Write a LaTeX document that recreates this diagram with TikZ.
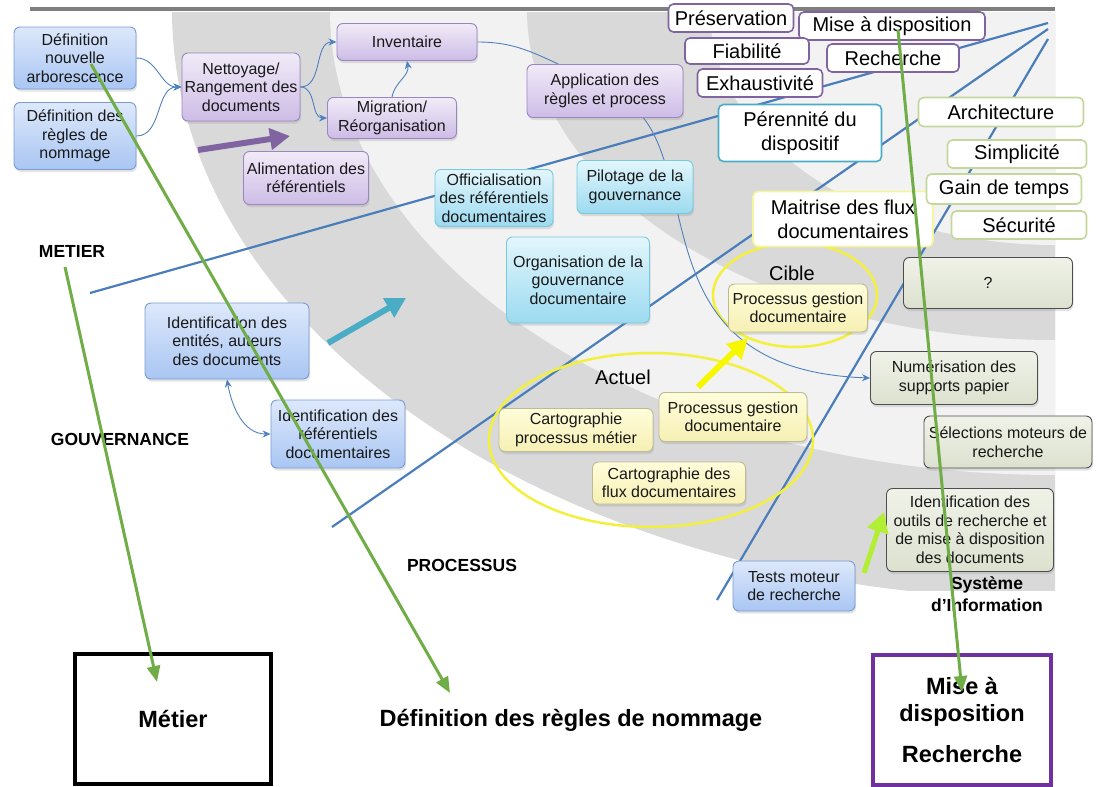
\documentclass[tikz,border=0pt]{standalone}
\usepackage{fontspec}
\setmainfont{Liberation Sans}
\usepackage{xcolor}
\usepackage{tikz}
\usetikzlibrary{arrows.meta,shadows}

\definecolor{bandGray}{HTML}{D9D9D9}
\definecolor{bandLight}{HTML}{F2F2F2}
\definecolor{barGray}{HTML}{7F7F7F}
\definecolor{spokeBlue}{HTML}{4A7EBB}
\definecolor{linkBlue}{HTML}{4F81BD}
\definecolor{blueLine}{HTML}{7B9BD1}
\definecolor{blueTop}{HTML}{DDE8FB}
\definecolor{blueBot}{HTML}{A9C6F3}
\definecolor{purpleLine}{HTML}{9A86C2}
\definecolor{purpleTop}{HTML}{F1EBF8}
\definecolor{purpleBot}{HTML}{CDBCE6}
\definecolor{tealLine}{HTML}{78C8DE}
\definecolor{tealTop}{HTML}{E2F6FC}
\definecolor{tealBot}{HTML}{9CDAF0}
\definecolor{yellowLine}{HTML}{BDBB96}
\definecolor{yellowTop}{HTML}{FFFDDA}
\definecolor{yellowBot}{HTML}{F6F0B4}
\definecolor{sysLine}{HTML}{4D4D4D}
\definecolor{sysTop}{HTML}{F0F2E8}
\definecolor{sysBot}{HTML}{DCE1CF}
\definecolor{tagPurple}{HTML}{8064A2}
\definecolor{tagTeal}{HTML}{4BACC6}
\definecolor{tagYellow}{HTML}{F5F5A0}
\definecolor{tagGreen}{HTML}{C3D69B}
\definecolor{ringYellow}{HTML}{F2F03C}
\definecolor{arrowYellow}{HTML}{F7F700}
\definecolor{arrowLime}{HTML}{B2EE34}
\definecolor{noteGreen}{HTML}{70AD47}
\definecolor{boxPurple}{HTML}{7030A0}

\pgfdeclarelayer{bg}
\pgfsetlayers{bg,main}

\begin{document}
\begin{tikzpicture}[x=1pt,y=-1pt,
    box/.style={rounded corners=6pt, align=center, inner sep=2pt, line width=0.9pt, text=black!90,
        font=\fontsize{16}{18.5}\selectfont,
        drop shadow={opacity=0.22, shadow xshift=1pt, shadow yshift=-2.5pt}},
    blueBox/.style={box, draw=blueLine, top color=blueTop, bottom color=blueBot},
    purpleBox/.style={box, draw=purpleLine, top color=purpleTop, bottom color=purpleBot},
    tealBox/.style={box, draw=tealLine, top color=tealTop, bottom color=tealBot},
    yellowBox/.style={box, draw=yellowLine, top color=yellowTop, bottom color=yellowBot},
    sysBox/.style={box, draw=sysLine, top color=sysTop, bottom color=sysBot},
    tagBox/.style={rounded corners=5pt, align=center, inner sep=2pt, fill=white, line width=1.6pt,
        font=\fontsize{20}{24}\selectfont},
    axisLabel/.style={align=center, font=\bfseries\fontsize{17.5}{22}\selectfont},
    bigLabel/.style={align=center, font=\bfseries\fontsize{23.5}{27}\selectfont},
    spoke/.style={draw=spokeBlue, line width=2.2pt},
    link/.style={draw=linkBlue, line width=0.9pt, -{Stealth[length=8pt,width=7pt]}},
    fatArrow/.style={line width=6pt, -{Triangle[length=20pt,width=21pt]}},
    noteArrow/.style={draw=noteGreen, line width=3pt, -{Triangle[length=16pt,width=13pt]}},
    ring/.style={draw=ringYellow, line width=2.5pt}
]
    \useasboundingbox (0,0) rectangle (1096,787);

    % spoke ends
    \coordinate (hubA) at (1048,23);
    \coordinate (hubB) at (1048,29);
    \coordinate (hubC) at (1048,39);
    \coordinate (spokeMetier) at (90,293);
    \coordinate (spokeGouv) at (332,527);
    \coordinate (spokeProc) at (717,600);

    % bands
    \begin{pgfonlayer}{bg}
        \begin{scope}
            \clip (0,12) rectangle (1055,590);
            \fill[bandGray] (1055,10) ellipse [x radius=883, y radius=589];
            \fill[bandLight] (1055,10) ellipse [x radius=725, y radius=465];
            \fill[bandGray] (1055,10) ellipse [x radius=528, y radius=330];
            \fill[bandLight] (1055,10) ellipse [x radius=345, y radius=235];
        \end{scope}
        \fill[barGray] (30,7) rectangle (1055,10.5);
        \draw[spoke] (spokeMetier) -- (hubA);
        \draw[spoke] (spokeGouv) -- (hubB);
        \draw[spoke] (spokeProc) -- (hubC);
        \draw[ring] (651,440) ellipse [x radius=162, y radius=87];
        \draw[ring] (795,295) ellipse [x radius=82, y radius=52];
    \end{pgfonlayer}

    % Metier
    \node[blueBox, minimum width=122, minimum height=62] (defArbo) at (75,58) {Définition\\nouvelle\\arborescence};
    \node[blueBox, minimum width=122, minimum height=67] (defRegles) at (75,136) {Définition des\\règles de\\nommage};
    \node[purpleBox, minimum width=118, minimum height=68] (nettoyage) at (241,87) {Nettoyage/\\Rangement des\\documents};
    \node[purpleBox, minimum width=140, minimum height=37] (inventaire) at (407,42) {Inventaire};
    \node[purpleBox, minimum width=129, minimum height=41] (migration) at (392,118) {Migration/\\Réorganisation};
    \node[purpleBox, minimum width=125, minimum height=53] (alimentation) at (306,178) {Alimentation des\\référentiels};
    \node[purpleBox, minimum width=156, minimum height=53] (application) at (605,91) {Application des\\règles et process};

    % Gouvernance
    \node[tealBox, minimum width=118, minimum height=57] (officialisation) at (494,198) {Officialisation\\des référentiels\\documentaires};
    \node[tealBox, minimum width=116, minimum height=53] (pilotage) at (635,187) {Pilotage de la\\gouvernance};
    \node[tealBox, minimum width=143, minimum height=86] (organisation) at (578,280) {Organisation de la\\gouvernance\\documentaire};
    \node[blueBox, minimum width=164, minimum height=76] (identEnt) at (227,341) {Identification des\\entités, auteurs\\des documents};
    \node[blueBox, minimum width=134, minimum height=68] (identRef) at (338,434) {Identification des\\référentiels\\documentaires};

    % Processus
    \node[yellowBox, minimum width=154, minimum height=43] (cartoProc) at (576,430) {Cartographie\\processus métier};
    \node[yellowBox, minimum width=148, minimum height=49] (procActuel) at (733,417) {Processus gestion\\documentaire};
    \node[yellowBox, minimum width=153, minimum height=42] (cartoFlux) at (669,483) {Cartographie des\\flux documentaires};
    \node[yellowBox, minimum width=139, minimum height=48] (procCible) at (798,308) {Processus gestion\\documentaire};
    \node[font=\fontsize{20}{24}\selectfont] (lblActuel) at (623,377) {Actuel};
    \node[font=\fontsize{20}{24}\selectfont] (lblCible) at (792,273) {Cible};

    % Systeme d'information
    \node[sysBox, minimum width=169, minimum height=51] (inconnu) at (988,283) {?};
    \node[sysBox, minimum width=167, minimum height=53] (numerisation) at (954,378) {Numérisation des\\supports papier};
    \node[sysBox, minimum width=168, minimum height=52] (selections) at (1008,442) {Sélections moteurs de\\recherche};
    \node[sysBox, minimum width=167, minimum height=83] (identOutils) at (970,530) {Identification des\\outils de recherche et\\de mise à disposition\\des documents};
    \node[blueBox, minimum width=122, minimum height=50] (testsMoteur) at (794,586) {Tests moteur\\de recherche};

    % objectifs
    \node[tagBox, draw=tagPurple, minimum width=125, minimum height=28] (preservation) at (731,18) {Préservation};
    \node[tagBox, draw=tagPurple, minimum width=186, minimum height=28] (miseDispo) at (892,26) {Mise à disposition};
    \node[tagBox, draw=tagPurple, minimum width=124, minimum height=26] (fiabilite) at (747,51) {Fiabilité};
    \node[tagBox, draw=tagPurple, minimum width=132, minimum height=28] (recherche) at (893,58) {Recherche};
    \node[tagBox, draw=tagPurple, minimum width=125, minimum height=28] (exhaustivite) at (760,83) {Exhaustivité};
    \node[tagBox, draw=tagTeal, minimum width=163, minimum height=57] (perennite) at (800,133) {Pérennité du\\dispositif};
    \node[tagBox, draw=tagYellow, minimum width=180, minimum height=55] (maitrise) at (843,219) {Maitrise des flux\\documentaires};
    \node[tagBox, draw=tagGreen, minimum width=165, minimum height=29] (architecture) at (1001,112) {Architecture};
    \node[tagBox, draw=tagGreen, minimum width=139, minimum height=28] (simplicite) at (1017,154) {Simplicité};
    \node[tagBox, draw=tagGreen, minimum width=155, minimum height=30] (gainTemps) at (1004,189) {Gain de temps};
    \node[tagBox, draw=tagGreen, minimum width=135, minimum height=28] (securite) at (1019,225) {Sécurité};

    % axes
    \node[axisLabel] (lblMetier) at (72,251) {METIER};
    \node[axisLabel] (lblGouv) at (120,439) {GOUVERNANCE};
    \node[axisLabel] (lblProc) at (462,565) {PROCESSUS};
    \node[axisLabel] (lblSI) at (987,594) {Système\\d’Information};

    % bas de page
    \node[bigLabel, draw=black, line width=3.5pt, minimum width=196, minimum height=130] (boxMetier) at (173,719) {Métier};
    \node[bigLabel] (lblNommage) at (571,720) {Définition des règles de nommage};
    \node[bigLabel, draw=boxPurple, line width=3.5pt, minimum width=178, minimum height=130] (boxMiseDispo) at (962,720) {Mise à\\disposition\\[14pt]Recherche};

    % liens
    \draw[link] (defArbo.east) to[out=0,in=180] (nettoyage.west);
    \draw[link] (defRegles.east) to[out=0,in=180] (nettoyage.west);
    \draw[link] (nettoyage.east) to[out=0,in=180] (inventaire.west);
    \draw[link] (nettoyage.east) to[out=0,in=180] (migration.west);
    \draw[link] (migration.north) to[out=80,in=-80] (inventaire.south);
    \draw[link, {Stealth[length=8pt,width=7pt]}-{Stealth[length=8pt,width=7pt]}] (identEnt.south) to[out=-80,in=180] (identRef.west);
    \begin{pgfonlayer}{bg}
        \draw[link, -] (inventaire.east) to[out=0,in=155] (application.150);
        \draw[link] (application.-35) .. controls (700,190) and (650,370) .. (numerisation.west);
    \end{pgfonlayer}

    % grosses fleches
    \coordinate (purpleTail) at (198,150);
    \coordinate (purpleTip) at (290,136);
    \coordinate (tealTail) at (328,343);
    \coordinate (tealTip) at (406,298);
    \coordinate (yellowTail) at (698,387);
    \coordinate (yellowTip) at (748,338);
    \coordinate (limeTail) at (864,573);
    \coordinate (limeTip) at (884,512);
    \draw[fatArrow, draw=tagPurple, fill=tagPurple] (purpleTail) -- (purpleTip);
    \draw[fatArrow, draw=tagTeal, fill=tagTeal] (tealTail) -- (tealTip);
    \draw[fatArrow, draw=arrowYellow, fill=arrowYellow] (yellowTail) -- (yellowTip);
    \draw[fatArrow, line width=5pt, draw=arrowLime, fill=arrowLime] (limeTail) -- (limeTip);

    % annotations
    \coordinate (noteMetier) at (65,267);
    \coordinate (noteMetierTip) at (157,682);
    \coordinate (noteArbo) at (91,64);
    \coordinate (noteArboTip) at (450,693);
    \coordinate (noteDispo) at (898,30);
    \coordinate (noteDispoTip) at (962,692);
    \draw[noteArrow] (noteMetier) -- (noteMetierTip);
    \draw[noteArrow] (noteArbo) -- (noteArboTip);
    \draw[noteArrow] (noteDispo) -- (noteDispoTip);
\end{tikzpicture}
\end{document}
